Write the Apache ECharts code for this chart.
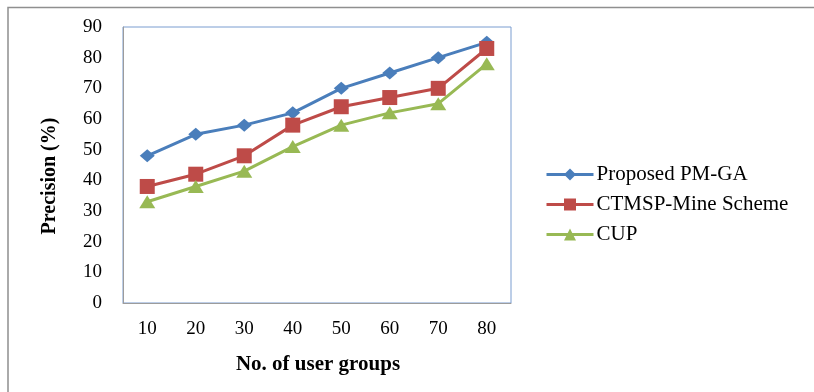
<!DOCTYPE html>
<html>
<head>
<meta charset="utf-8">
<style>
  html, body { margin: 0; padding: 0; background: #ffffff; }
  #chart { width: 814px; height: 392px; }
</style>
<script src="https://cdn.jsdelivr.net/npm/echarts@6/dist/echarts.min.js"></script>
</head>
<body>
<div id="chart"></div>
<script>
// Number of user groups on the x axis
const userGroups = ['10', '20', '30', '40', '50', '60', '70', '80'];

// Precision (%) per scheme
const proposedPmGa = [48, 55, 58, 62, 70, 75, 80, 85];
const ctmspMine = [38, 42, 48, 58, 64, 67, 70, 83];
const cup = [33, 38, 43, 51, 58, 62, 65, 78];

const seriesNames = ['Proposed PM-GA', 'CTMSP-Mine Scheme', 'CUP'];

const serif = '"Liberation Serif", "Times New Roman", serif';

const chart = echarts.init(document.getElementById('chart'), null, { renderer: 'canvas' });

function lineSeries(name, data, color, symbol, size) {
  return {
    name: name,
    type: 'line',
    data: data,
    symbol: symbol,
    symbolSize: size,
    showAllSymbol: true,
    lineStyle: { color: color, width: 3 },
    itemStyle: { color: color, borderWidth: 0 },
    emphasis: { disabled: true },
    animation: false
  };
}

chart.setOption({
  backgroundColor: '#ffffff',
  animation: false,
  grid: {
    left: 123, right: 303, top: 27, bottom: 89,
    show: true,
    borderColor: '#7b9dd0',
    borderWidth: 1,
    backgroundColor: 'transparent'
  },
  legend: {
    orient: 'vertical',
    left: 545,
    top: 164,
    padding: 0,
    itemWidth: 47,
    itemHeight: 15,
    itemGap: 9,
    data: seriesNames,
    lineStyle: { width: 3 },
    textStyle: { fontFamily: serif, fontSize: 21, color: '#000000', padding: [0, 0, 0, -2] }
  },
  xAxis: {
    type: 'category',
    data: userGroups,
    boundaryGap: true,
    axisLine: { show: true, lineStyle: { color: '#9c9c9c', width: 1 } },
    axisTick: { show: false },
    splitLine: { show: false },
    axisLabel: { fontFamily: serif, fontSize: 19, color: '#000000', margin: 17 }
  },
  yAxis: {
    type: 'value',
    min: 0,
    max: 90,
    interval: 10,
    axisLine: { show: true, lineStyle: { color: '#9c9c9c', width: 1 } },
    axisTick: { show: false },
    splitLine: { show: false },
    axisLabel: { fontFamily: serif, fontSize: 19, color: '#000000', margin: 21 }
  },
  series: [
    lineSeries(seriesNames[0], proposedPmGa, '#4a7ebb', 'diamond', [15, 13]),
    lineSeries(seriesNames[1], ctmspMine, '#be4b48', 'rect', 15),
    lineSeries(seriesNames[2], cup, '#98b954', 'triangle', [16, 13])
  ],
  graphic: [
    {
      type: 'polyline',
      shape: { points: [[8, 400], [8, 7.5], [820, 7.5]] },
      style: { stroke: '#8f8f8f', lineWidth: 1.5, fill: null },
      silent: true
    },
    {
      type: 'text',
      x: 50,
      y: 176,
      rotation: Math.PI / 2,
      style: {
        text: 'Precision (%)',
        font: 'bold 20px ' + serif,
        fill: '#000000',
        align: 'center',
        verticalAlign: 'middle'
      },
      silent: true
    },
    {
      type: 'text',
      x: 318,
      y: 365,
      style: {
        text: 'No. of user groups',
        font: 'bold 21px ' + serif,
        fill: '#000000',
        align: 'center',
        verticalAlign: 'middle'
      },
      silent: true
    }
  ]
});
</script>
</body>
</html>
